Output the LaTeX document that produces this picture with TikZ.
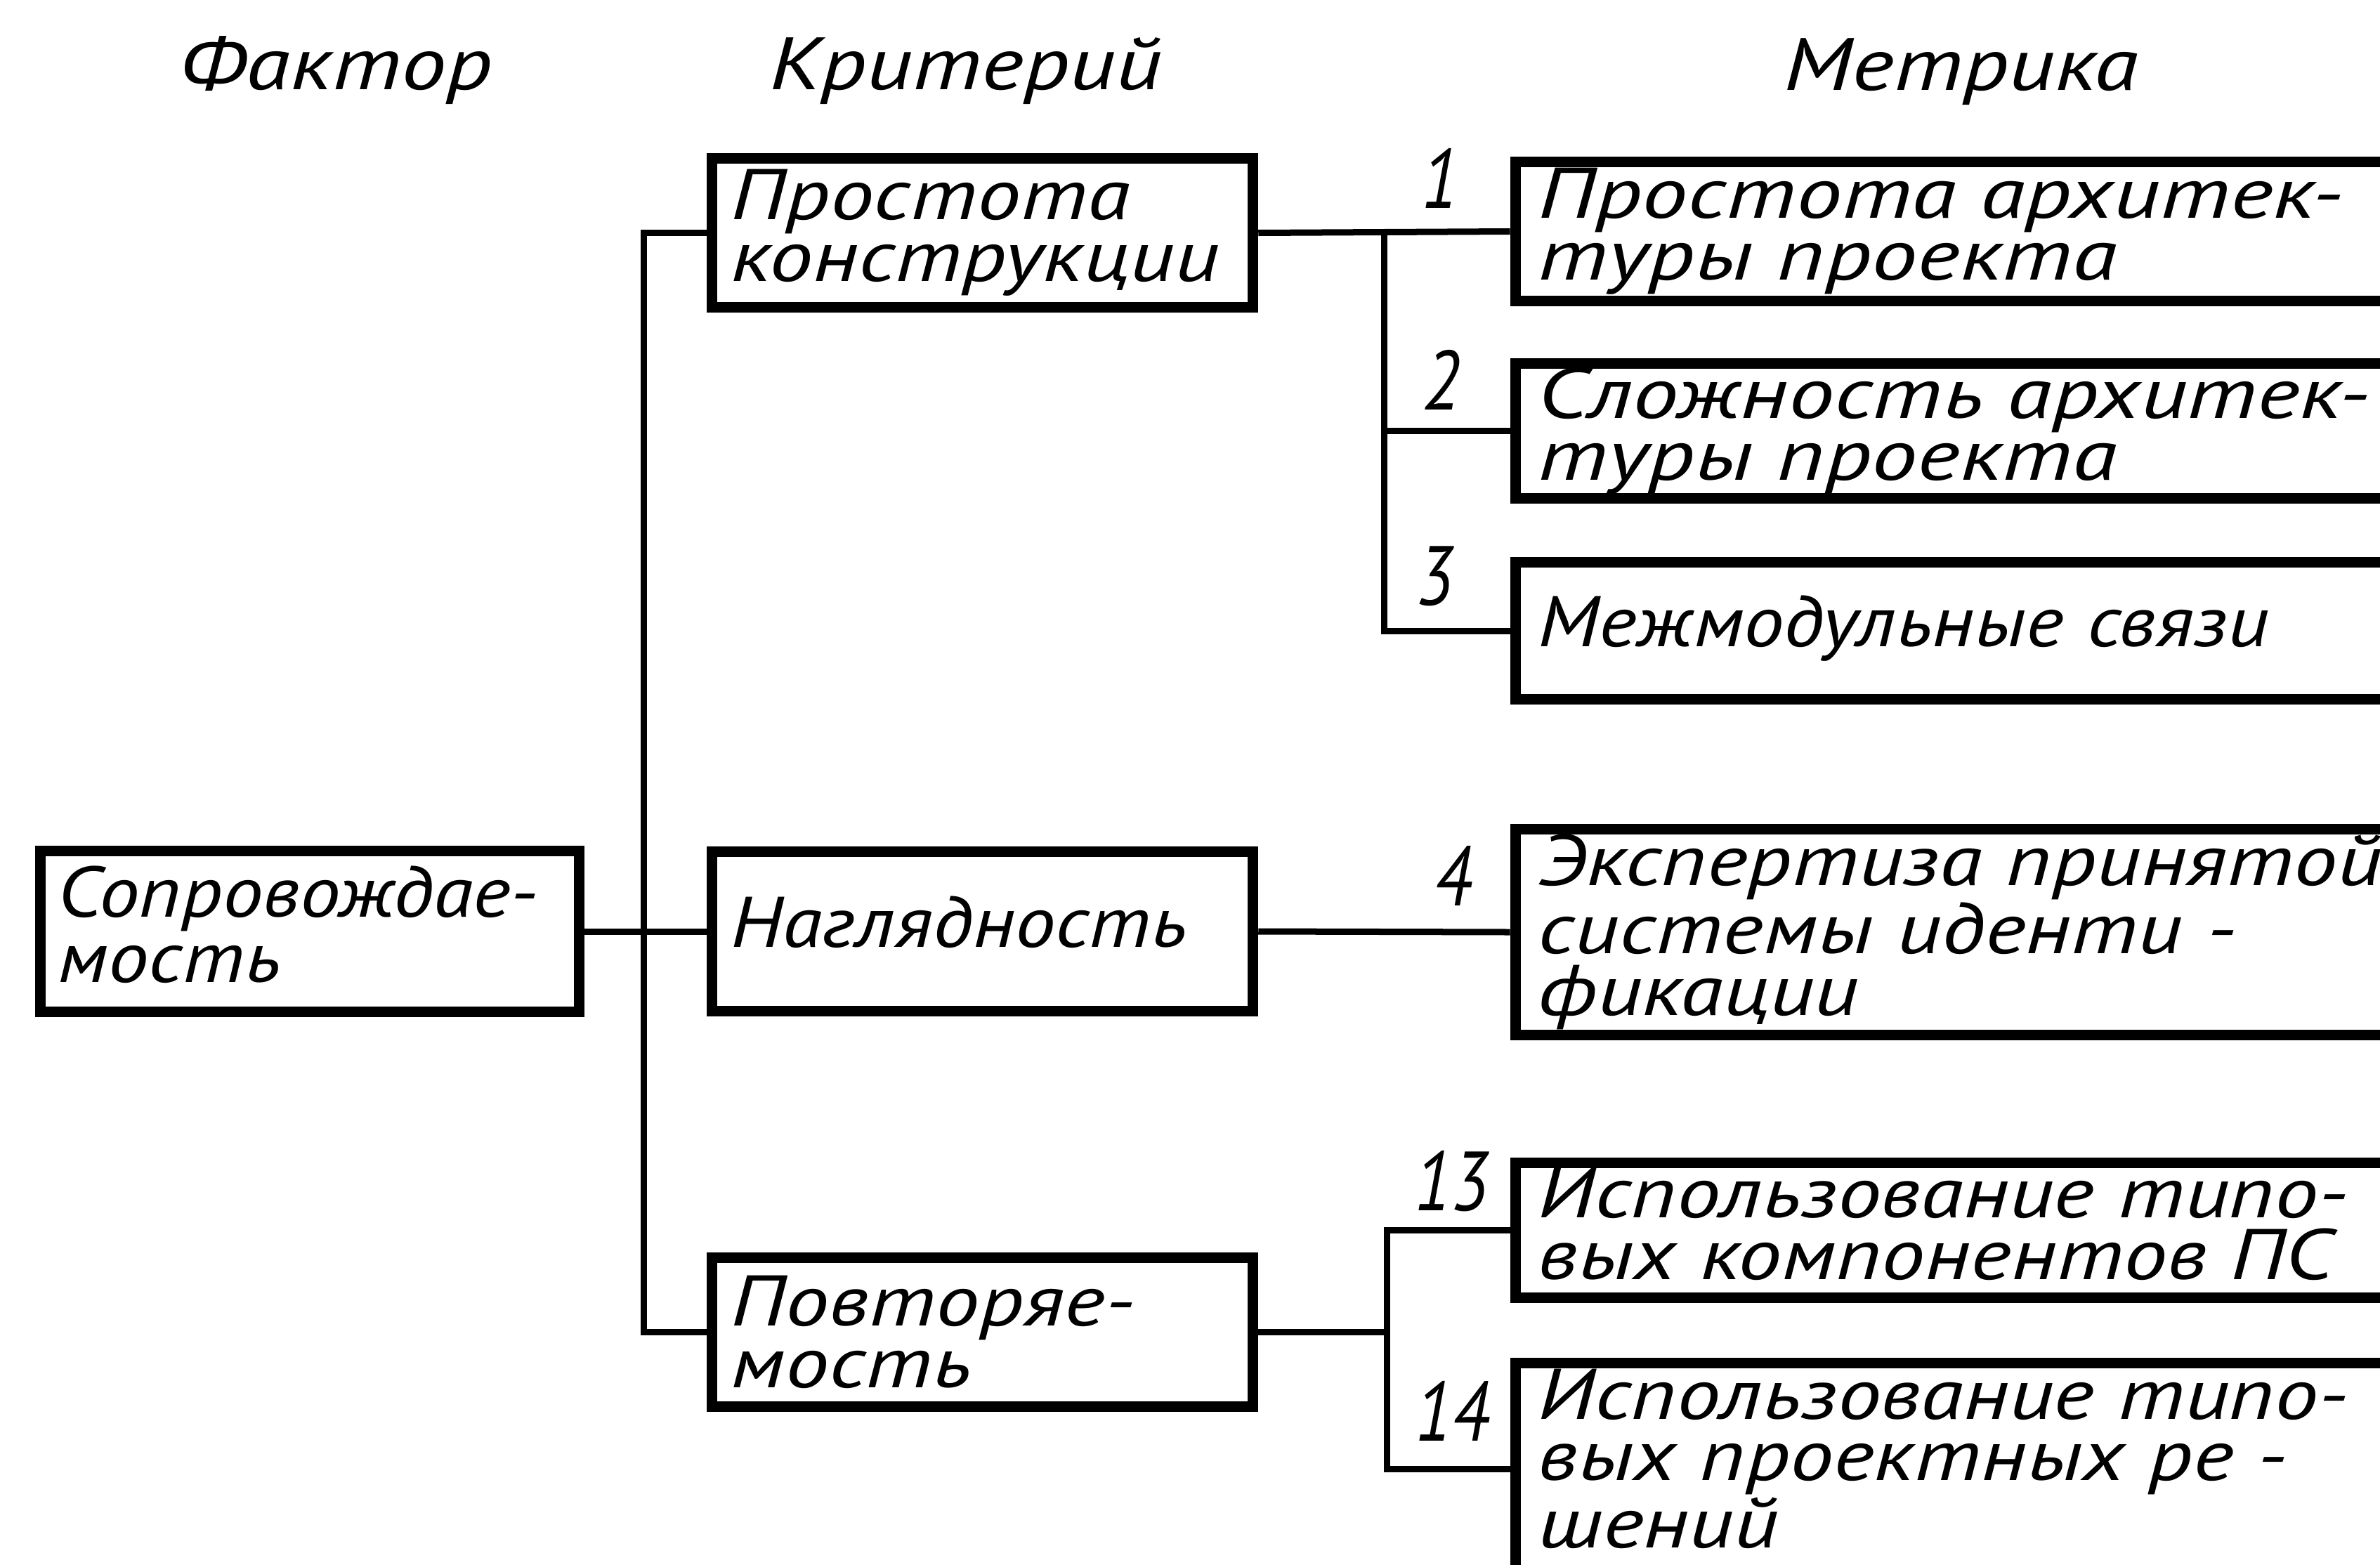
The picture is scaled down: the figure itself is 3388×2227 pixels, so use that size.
\documentclass[tikz,border=0pt]{standalone}
\usepackage{fontspec}
\newfontfamily\gost{PT Sans}[UprightFont=* Italic, FakeStretch=1.22]
\newfontfamily\gostc{PT Sans}[UprightFont=* Italic, FakeStretch=1.13]
\newfontfamily\gostw{PT Sans}[UprightFont=* Italic, FakeStretch=1.28]
\newfontfamily\gostn{PT Sans}[UprightFont=* Italic, FakeStretch=0.85]
\begin{document}
\begin{tikzpicture}[x=0.01cm, y=-0.01cm,
  box/.style={draw, line width=0.15cm, inner sep=0pt, align=left,
    font=\gost\fontsize{29}{25}\selectfont,
    execute at begin node={\exhyphenpenalty=10000\hyphenpenalty=10000\hfuzz=20cm}},
  mbox/.style={box, minimum width=14.35cm, text width=13.7cm},
  kbox/.style={box, minimum width=7.70cm, text width=7.15cm},
  oneline/.style={text height=0.6cm, text depth=0.16cm},
  conn/.style={line width=0.09cm},
  head/.style={font=\gost\fontsize{30}{30}\selectfont, anchor=base, inner sep=0pt},
  num/.style={font=\gostn\fontsize{34}{34}\selectfont, inner sep=0pt}]
\useasboundingbox (0,0) rectangle (3388,2227);
\clip (0,0) rectangle (3388,2227);
\fill[white] (0,0) rectangle (3388,2227);

% headers
\node[head] (hF) at (478,127) {Фактор};
\node[head] (hK) at (1375,127) {Критерий};
\node[head] (hM) at (2792,128) {Метрика};

% factor
\node[box, minimum width=7.67cm, minimum height=2.29cm, text width=7.16cm,
  font=\gostc\fontsize{29}{26.5}\selectfont] (fac) at (441,1326) {Сопровождае-\\мость\rule[-0.2cm]{0pt}{0pt}};

% criteria
\node[kbox, minimum height=2.12cm] (krit1) at (1398.5,331.5) {Простота\\конструкции};
\node[kbox, minimum height=2.27cm, oneline, font=\gostc\fontsize{29}{25}\selectfont] (krit2) at (1398.5,1326) {Наглядность};
\node[kbox, minimum height=2.12cm] (krit3) at (1398.5,1896.5) {Повторяе-\\мость};

% metrics
\node[mbox, minimum height=1.98cm, font=\gostw\fontsize{29}{25}\selectfont] (m1) at (2875,329.5) {Простота архитек-\\туры проекта};
\node[mbox, minimum height=1.92cm, font=\gostw\fontsize{29}{25}\selectfont] (m2) at (2875,613.5) {Сложность архитек-\\туры проекта};
\node[mbox, minimum height=1.95cm, oneline, font=\gostc\fontsize{29}{25}\selectfont] (m3) at (2875,898) {Межмодульные связи};
\node[mbox, minimum height=2.93cm] (m4) at (2875,1327) {Экспертиза принятой\\системы иденти -\\фикации};
\node[mbox, minimum height=1.92cm] (m13) at (2875,1751.5) {Использование типо-\\вых компонентов ПС\rule[-0.2cm]{0pt}{0pt}};
\node[mbox, minimum height=3.01cm] (m14) at (2875,2091) {Использование типо-\\вых проектных ре -\\шений\rule[-0.3cm]{0pt}{0pt}};

% numbers
\node[num] (n1) at (2050,254) {1};
\node[num] (n2) at (2052,541) {2};
\node[num] (n3) at (2043,820) {3};
\node[num] (n4) at (2069,1247) {4};
\node[num] (n13) at (2066,1682) {13};
\node[num] (n14) at (2067,2009) {14};

% connectors
\coordinate (jL) at (916,1896.5);
\draw[conn] (krit1.west) -| (jL) -- (krit3.west);
\draw[conn] (fac.east) -- (krit2.west);
\draw[conn] (krit1.east) -- (m1.west);
\coordinate (jB) at (1970,898);
\draw[conn] (m2.west) -- (jB |- m2.west);
\draw[conn] (krit1.east -| jB) -- (jB) -- (m3.west);
\draw[conn] (krit2.east) -- (m4.west);
\coordinate (jC1) at (1974,1751.5);
\coordinate (jC2) at (1974,2091);
\draw[conn] (krit3.east) -- (krit3.east -| jC1);
\draw[conn] (m13.west) -- (jC1) -- (jC2) -- (m14.west);
\end{tikzpicture}
\end{document}
